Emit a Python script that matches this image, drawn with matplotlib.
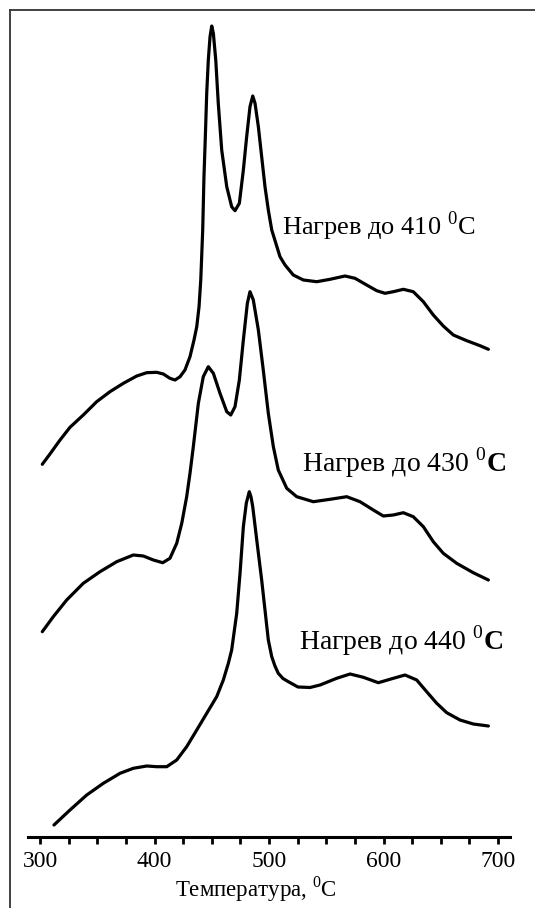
import matplotlib
matplotlib.use("Agg")
import matplotlib.pyplot as plt
from matplotlib.ticker import FixedLocator
from matplotlib.lines import Line2D

plt.rcParams['font.family'] = ['Liberation Serif', 'DejaVu Serif']
plt.rcParams['mathtext.fontset'] = 'custom'
plt.rcParams['mathtext.rm'] = 'Liberation Serif'
plt.rcParams['mathtext.bf'] = 'Liberation Serif:bold'

# Curve 1: heating to 410 C
t1 = [302.0, 308.7, 317.5, 326.2, 337.8, 349.5, 361.1, 372.8, 384.5, 393.2, 401.9, 407.7,
      413.5, 417.9, 422.3, 426.6, 431.0, 434.5, 436.9, 438.9, 440.4, 441.2, 442.1, 443.2,
      444.4, 445.6, 447.0, 448.5, 450.0, 451.4, 453.5, 455.7, 458.7, 463.1, 467.4, 470.3,
      474.1, 477.6, 480.5, 483.4, 485.8, 487.8, 490.7, 493.6, 496.5, 499.4, 502.4, 509.6,
      514.0, 521.2, 530.0, 541.7, 553.3, 566.4, 575.1, 585.3, 594.1, 601.3, 608.6, 617.3,
      626.0, 634.8, 643.5, 652.2, 661.0, 672.7, 684.3, 691.6]
s1 = [372.7, 383, 397, 409.7, 422, 435.3, 445.3, 453.7, 461, 464.3, 464.7, 463,
      458.7, 457, 460.3, 467, 480.3, 497, 510.3, 530.3, 557, 580.3, 607, 660.3,
      700.3, 743.7, 777, 800.3, 811, 803.7, 777, 733.7, 687, 650.3, 630.3, 626.3,
      633.7, 667, 700.3, 730.3, 741, 733.7, 710.3, 680.3, 650.3, 627, 607, 580.3,
      572, 562, 557, 555.3, 557.7, 561, 558.7, 552, 546.3, 543.7, 545.3, 547.7,
      545.3, 535.3, 522, 511, 502, 496.3, 491.3, 487.7]

# Curve 2: heating to 430 C
t2 = [302.0, 311.6, 323.3, 337.8, 352.4, 367.0, 381.5, 390.2, 399.0, 407.2, 413.5, 419.4,
      423.8, 428.1, 431.0, 433.9, 438.3, 442.6, 447.0, 451.4, 457.2, 463.1, 466.6, 470.3,
      474.1, 477.6, 481.1, 483.4, 486.3, 490.7, 495.0, 499.4, 503.8, 508.1, 515.5, 524.2,
      538.7, 553.3, 567.9, 579.5, 591.1, 599.8, 608.6, 617.3, 626.0, 634.8, 643.5, 652.2,
      663.9, 678.4, 691.6]
s2 = [205.3, 220.3, 237, 253.7, 265.3, 275.3, 282, 281, 277, 274.3, 278.7, 293.7,
      313.7, 340.3, 363.7, 390.3, 433.7, 460.3, 470.3, 463.7, 443.7, 425.3, 422, 430.3,
      457, 497, 533.7, 545.3, 537, 507, 467, 423.7, 390.3, 367, 348.7, 340.3,
      335.3, 337.7, 340.3, 335.3, 327, 321, 322, 324.3, 320.3, 310.3, 295.3, 283.7,
      273.7, 264.3, 257]

# Curve 3: heating to 440 C
t3 = [312.2, 326.2, 340.8, 355.3, 369.9, 381.5, 393.2, 401.9, 410.7, 419.4, 428.1, 436.9,
      445.6, 454.3, 460.1, 464.5, 467.4, 471.8, 474.7, 477.6, 480.2, 482.8, 484.3, 485.8,
      489.3, 493.6, 496.5, 499.4, 502.4, 505.2, 508.1, 512.2, 516.9, 525.3, 535.8, 544.6,
      559.1, 570.8, 582.4, 595.5, 608.6, 618.8, 629.0, 637.7, 646.5, 655.2, 666.8, 678.4,
      691.6]
s3 = [12, 27, 42, 53.7, 63.7, 68.7, 71, 70.3, 70.3, 77, 90.3, 107,
      123.7, 140.3, 157, 173.7, 187, 223.7, 263.7, 310.3, 334, 345.3, 340, 330.3,
      297, 257, 227, 197, 180.3, 171, 163.7, 158.5, 155.3, 150, 149.5, 152,
      158.7, 163, 159.7, 154.3, 158.7, 162, 157, 145.3, 133.7, 124.3, 117, 113,
      111]

major_ticks = [300, 400, 500, 600, 700]
minor_ticks = [325, 350, 375, 425, 450, 475, 525, 550, 575, 625, 650, 675]
major_labels = ['300', '400', '500', '600', '700']
curve_labels = ['Нагрев до 410 $^{0}$C',
                'Нагрев до 430 $^{0}$$\\mathbf{C}$',
                'Нагрев до 440 $^{0}$$\\mathbf{C}$']
xlabel = 'Температура, $^{0}$C'

W, H = 535, 908
fig = plt.figure(figsize=(W / 100, H / 100), dpi=100)
ax = fig.add_axes([0, 0, 1, 1])
fig.patch.set_facecolor('white')

# pixel mapping: T=300 -> x=40 px, 1.145 px per degree; axis line at y=837 px
ppd = 1.145
ax.set_xlim(300 - 40 / ppd, 300 + (W - 40) / ppd)
ax.set_ylim(837 - H, 837)

for t, s in ((t1, s1), (t2, s2), (t3, s3)):
    ax.plot(t, s, color='black', lw=2.3, solid_capstyle='round', solid_joinstyle='round')

for sp in ('top', 'right', 'left'):
    ax.spines[sp].set_visible(False)
ax.spines['bottom'].set_position(('data', 0))
ax.spines['bottom'].set_bounds(300 - 12 / ppd, 300 + 470 / ppd)
ax.spines['bottom'].set_linewidth(2.2)
ax.set_yticks([])
ax.set_xticks(major_ticks)
ax.set_xticklabels(major_labels)
ax.xaxis.set_minor_locator(FixedLocator(minor_ticks))
ax.tick_params(axis='x', which='both', direction='out', length=5, width=2, color='black')
ax.tick_params(axis='x', which='major', labelsize=17, pad=5)

# curve labels
fig.text(282 / W, 1 - 226 / H, curve_labels[0], fontsize=19, ha='left', va='center')
fig.text(302 / W, 1 - 463 / H, curve_labels[1], fontsize=20, ha='left', va='center')
fig.text(299 / W, 1 - 641 / H, curve_labels[2], fontsize=20, ha='left', va='center')
fig.text(256 / W, 1 - 889 / H, xlabel, fontsize=16.5, ha='center', va='center')

# frame lines of the scanned figure
fig.add_artist(Line2D([10 / W, 10 / W], [0, 1 - 10 / H], transform=fig.transFigure, color='#333333', lw=1.3))
fig.add_artist(Line2D([10 / W, 1], [1 - 10 / H, 1 - 10 / H], transform=fig.transFigure, color='#333333', lw=1.3))

fig.savefig('out.png', dpi=100)
